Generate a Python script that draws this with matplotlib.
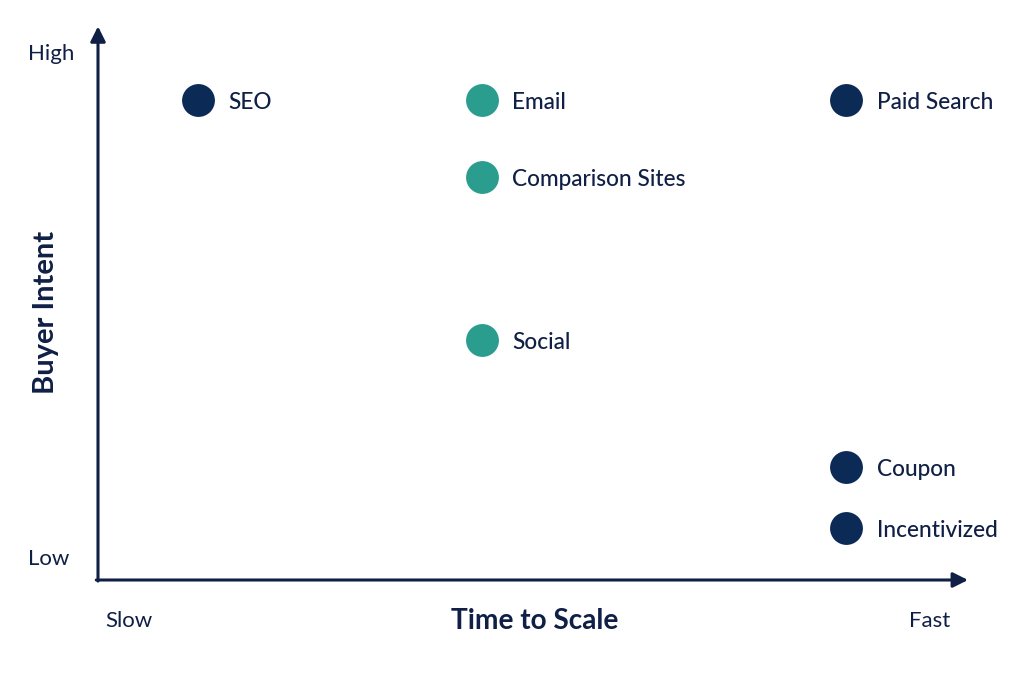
import matplotlib
matplotlib.use("Agg")
import matplotlib.pyplot as plt

# Data
channels = ["SEO", "Email", "Paid Search", "Comparison Sites", "Social", "Coupon", "Incentivized"]
time_to_scale = [1.15, 4.41, 8.6, 4.41, 4.41, 8.6, 8.6]
buyer_intent = [8.7, 8.7, 8.7, 7.3, 4.35, 2.05, 0.94]
groups = ["navy", "teal", "navy", "teal", "teal", "navy", "navy"]

colors = {"navy": "#0c2a56", "teal": "#2a9d8f"}
text_color = "#0f1f45"

plt.rcParams['font.family'] = ['Lato', 'DejaVu Sans']

fig = plt.figure(figsize=(10.24, 6.82), dpi=100)
fig.patch.set_facecolor("white")
ax = fig.add_axes([98/1024, (682-580)/682, 870/1024, 552/682])
ax.set_xlim(0, 10)
ax.set_ylim(0, 10)
for s in ax.spines.values():
    s.set_visible(False)
ax.set_xticks([])
ax.set_yticks([])
ax.patch.set_alpha(0)

# Axis arrows
arrow_kw = dict(arrowstyle="-|>,head_length=0.9,head_width=0.45", color=text_color, lw=2.2,
                shrinkA=0, shrinkB=0)
ax.annotate("", xy=(1.0, 0.0), xytext=(-0.002, 0.0), xycoords="axes fraction",
            arrowprops=arrow_kw, annotation_clip=False)
ax.annotate("", xy=(0.0, 1.003), xytext=(0.0, -0.002), xycoords="axes fraction",
            arrowprops=arrow_kw, annotation_clip=False)

# Points
for name, x, y, g in zip(channels, time_to_scale, buyer_intent, groups):
    ax.scatter([x], [y], s=560, color=colors[g], zorder=3, clip_on=False, linewidths=0)
    ax.annotate(name, xy=(x, y), xytext=(22, -2), textcoords="offset points",
                va="center", ha="left", fontsize=16.3, color=text_color, fontweight="medium")

# Axis end labels
fig.text(28/1024, 1 - 54/682, "High", fontsize=16, color=text_color, va="center", ha="left")
fig.text(28/1024, 1 - 559/682, "Low", fontsize=16, color=text_color, va="center", ha="left")
fig.text(105/1024, 1 - 621/682, "Slow", fontsize=16, color=text_color, va="center", ha="left")
fig.text(950/1024, 1 - 621/682, "Fast", fontsize=16, color=text_color, va="center", ha="right")

# Axis titles
fig.text(535/1024, 1 - 621/682, "Time to Scale", fontsize=20.2, fontweight="bold",
         color=text_color, va="center", ha="center")
fig.text(46/1024, 1 - 312/682, "Buyer Intent", fontsize=21, fontweight="bold",
         color=text_color, va="center", ha="center", rotation=90)

fig.savefig("out.png", dpi=100, facecolor="white")
